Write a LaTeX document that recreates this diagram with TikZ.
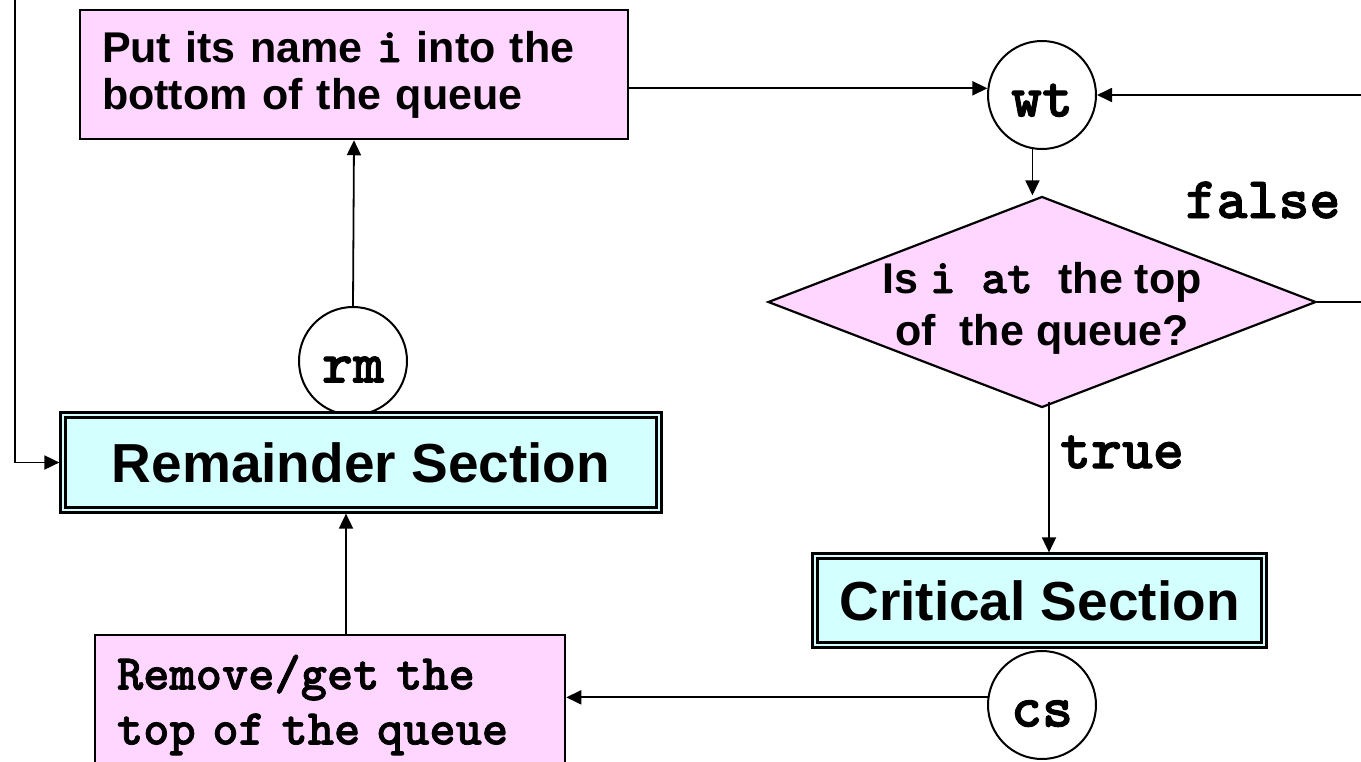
\documentclass[tikz,border=0pt]{standalone}
\usepackage{fontspec}
\setmainfont{Liberation Sans}
\newfontfamily\monof{lmmonolt10-bold}[Extension=.otf, FakeBold=1.5]
\usetikzlibrary{shapes.geometric,arrows.meta,calc}
\definecolor{pinkfill}{RGB}{255,214,255}
\definecolor{cyanfill}{RGB}{212,255,255}
\begin{document}
\begin{tikzpicture}[x=1pt,y=-1pt,
  arr/.style={line width=1.8pt,-{Triangle[length=15pt,width=14pt]}},
  pbox/.style={draw, line width=2.5pt, fill=pinkfill, inner ysep=0pt, inner xsep=22pt, align=left,
    font=\bfseries\fontsize{43}{47}\selectfont},
  dbox/.style={draw, double=cyanfill, double distance=2.8pt, line width=2.2pt, fill=cyanfill,
    inner sep=0pt, outer sep=3.6pt, font=\bfseries\fontsize{55}{60}\selectfont},
  circ/.style={circle, draw, line width=2pt, fill=white, minimum size=108pt, inner sep=0pt,
    font=\monof\fontsize{59}{59}\selectfont, text height=43pt, text depth=0pt},
  lbl/.style={font=\monof\fontsize{59}{59}\selectfont, inner sep=0pt},
  decision/.style={diamond, draw, line width=2.2pt, fill=pinkfill, minimum width=548pt,
    minimum height=211pt, inner sep=0pt, font=\bfseries\fontsize{43}{52}\selectfont}
]
\useasboundingbox (0,0) rectangle (1361,761);

\node[pbox, text width=504pt, minimum height=129pt] (put) at (354,74.5)
  {Put its name {\monof\fontsize{49}{47}\selectfont i} into the\\bottom of the queue};
\node[circ] (rm) at (353,361) {rm};
\node[dbox, minimum width=596pt, minimum height=95pt] (rs) at (361,462.5) {Remainder Section};
\node[circ] (wt) at (1042,95) {wt};
\node[decision] (dia) at (1042,302)
  {\makebox[0pt]{\smash{\raisebox{9pt}{\begin{tabular}[t]{@{}c@{}}Is {\monof\fontsize{49}{52}\selectfont i at }the top\\of\ \ the queue?\end{tabular}}}}};
\node[dbox, minimum width=449pt, minimum height=89pt] (crit) at (1039.5,600.5) {Critical Section};
\node[circ] (cs) at (1042,705) {cs};
\node[pbox, text width=426pt, minimum height=140pt, font=\monof\fontsize{50}{55}\selectfont]
  (rem) at (330,705) {Remove/get the\\top of the queue};

\node[lbl] (false) at (1263,200) {false};
\node[lbl] (true) at (1122,452) {true};

\coordinate (ltop) at (15,-40);
\coordinate (rloop) at (1420,200);

\draw[arr] (ltop) |- (rs.west);
\draw[arr] (rm.north) -- (put.south);
\draw[arr] (put.east |- wt.173) -- (wt.173);
\draw[arr] (wt.260) -- (wt.260 |- dia.north);
\draw[arr] (dia.east) -- (dia.east -| rloop) |- (wt.east);
\draw[arr] ([xshift=7pt,yshift=7pt]dia.south) -- ([xshift=7pt]dia.south |- crit.north);
\draw[arr] (cs.172) -- (cs.172 -| rem.east);
\draw[arr] ([xshift=16pt]rem.north) -- ([xshift=16pt]rem.north |- rs.south);
\end{tikzpicture}
\end{document}
